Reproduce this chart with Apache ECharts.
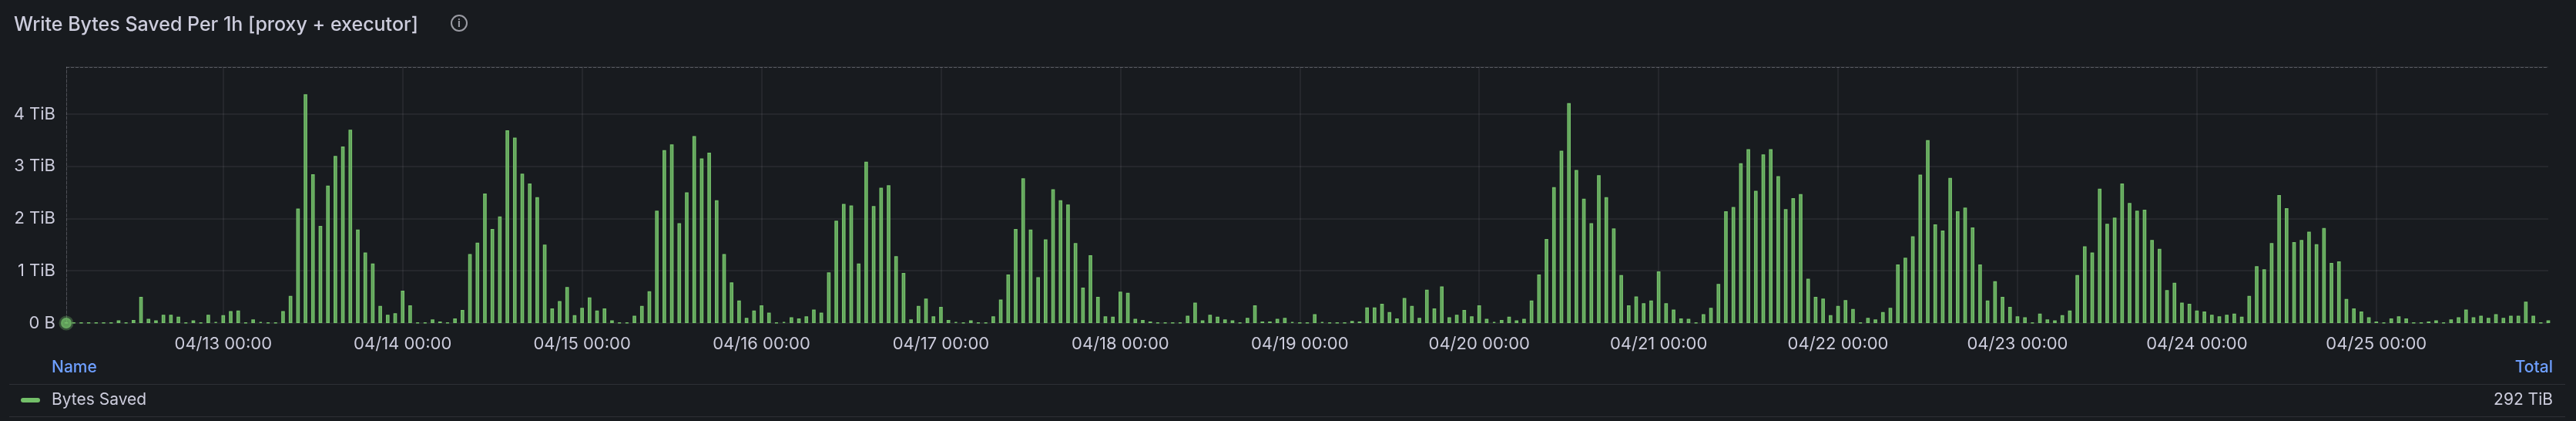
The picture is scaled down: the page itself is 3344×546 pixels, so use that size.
<!DOCTYPE html>
<html><head><meta charset="utf-8">
<script src="https://cdn.jsdelivr.net/npm/echarts@6/dist/echarts.min.js"></script>
<style>html,body{margin:0;padding:0;background:#181b1f;}#c{width:3344px;height:546px;}</style>
</head><body><div id="c"></div>
<script>
// first bar: 04/12 03:00, hourly
var startDay = 12, startHour = 3;
var values = [
0.005,0.005,0.005,0.005,0.005,0.005,0.005,0.05,0.01,0.06,0.50,0.08,0.05,0.16,0.16,0.12,0.01,0.05,0.01,0.16,0.02,0.15,0.23,0.24,0.01,0.07,0.02,0.01,0.01,0.23,
0.52,2.19,4.38,2.85,1.86,2.63,3.20,3.38,3.70,1.79,1.35,1.14,0.33,0.16,0.19,0.62,0.34,0.01,0.01,0.07,0.03,0.01,0.09,0.25,
1.32,1.54,2.48,1.80,2.04,3.69,3.55,2.86,2.67,2.41,1.50,0.28,0.42,0.69,0.15,0.29,
0.49,0.24,0.28,0.05,0.01,0.01,0.14,0.33,0.61,2.15,
3.31,3.42,1.91,2.50,3.58,3.15,3.26,2.35,1.32,0.78,
0.43,0.10,0.24,0.34,0.20,0.01,0.02,0.11,0.09,0.13,0.26,0.20,0.97,1.96,2.28,2.25,1.14,3.09,2.24,2.59,2.64,1.28,0.96,
0.07,0.33,0.47,0.13,0.31,0.06,0.02,0.01,0.05,0.01,0.01,0.13,0.45,0.93,1.80,2.77,1.79,0.88,1.60,2.56,2.35,2.27,1.53,0.68,1.30,0.50,0.13,0.12,0.60,0.58,0.08,0.06,0.03,0.01,0.01,0.005,0.01,0.14,0.39,0.05,0.16,0.12,0.07,0.05,0.01,0.10,0.34,0.03,0.03,0.08,0.10,0.02,0.005,0.005,0.17,0.02,0.01,0.005,0.005,0.04,
0.03,0.30,0.30,0.37,0.21,0.09,0.48,0.33,0.10,0.64,0.28,0.70,0.11,0.16,0.25,0.13,0.34,
0.08,0.02,0.06,0.12,0.05,0.08,0.43,0.93,1.61,2.60,3.30,4.21,2.93,2.38,1.91,2.83,2.41,1.81,0.92,0.34,0.51,0.38,0.43,0.99,
0.38,0.26,0.09,0.08,0.01,0.17,0.29,0.75,2.14,2.22,3.06,3.33,2.53,3.23,3.33,2.81,2.18,2.39,2.47,
0.85,0.50,0.47,0.15,0.33,
0.44,0.27,0.01,0.10,0.07,0.21,0.29,1.12,1.25,1.66,2.84,3.50,1.89,1.77,2.78,2.14,2.21,1.83,1.12,0.43,0.80,0.50,0.31,0.13,
0.11,0.01,0.18,0.07,0.05,0.15,0.24,0.92,1.47,1.35,2.57,1.90,2.02,2.67,2.30,2.15,2.17,1.59,1.42,0.63,0.77,0.39,0.37,0.24,
0.22,0.16,0.13,0.16,0.18,0.12,0.52,
1.09,1.03,1.53,2.45,2.20,1.55,1.59,1.75,1.51,1.82,1.15,1.18,0.46,0.28,0.22,0.11,0.03,
0.01,0.09,0.13,0.09,0.005,0.005,0.03,0.05,0.01,0.07,0.11,0.26,0.11,0.14,0.10,0.17,0.10,0.14,0.14,0.41,0.14,0.005,0.05
];
var yTicks = [0,1,2,3,4];
var yMax = 4.9;
var legendName = 'Bytes Saved';
var legendTotal = '292 TiB';
var titleText = 'Write Bytes Saved Per 1h [proxy + executor]';

function pad(n){return (n<10?'0':'')+n;}
var categories = [];
for (var i=0;i<values.length;i++){
  var h = startHour + i;
  var d = startDay + Math.floor(h/24);
  categories.push('04/' + pad(d) + ' ' + pad(h%24) + ':00');
}
var isMidnight = function(idx){ return /00:00$/.test(categories[idx]); };
var txt = '#ccccdc';
var font = 'Inter, "Noto Sans", sans-serif';
var chart = echarts.init(document.getElementById('c'));
chart.setOption({
  backgroundColor:'#181b1f',
  animation:false,
  textStyle:{fontFamily:font},
  title:{text:titleText,left:13,top:15,textStyle:{color:'#ccccdc',fontSize:25,fontWeight:500,fontFamily:font}},
  grid:{left:86,right:36,top:87,bottom:127,containLabel:false},
  xAxis:{type:'category',data:categories,boundaryGap:false,
    axisLine:{show:false},axisTick:{show:false},
    axisLabel:{interval:function(i){return isMidnight(i);},color:txt,fontSize:22,margin:16,fontFamily:font},
    splitLine:{show:true,interval:function(i){return isMidnight(i);},lineStyle:{color:'rgba(204,204,220,0.1)',width:1.5}}
  },
  yAxis:{type:'value',min:0,max:yMax,interval:1,
    axisLine:{show:true,lineStyle:{color:'rgba(204,204,220,0.3)',type:'dashed',width:1}},
    axisTick:{show:false},
    axisLabel:{color:txt,fontSize:22,margin:14,fontFamily:font,
      formatter:function(v){ if(yTicks.indexOf(v)<0) return ''; return v===0?'0 B':v+' TiB';}},
    splitLine:{lineStyle:{color:'rgba(204,204,220,0.1)',width:1.5}}
  },
  series:[{type:'bar',data:values,barWidth:'48%',
    itemStyle:{color:'rgba(115,191,105,0.8)',borderColor:'#73bf69',borderWidth:1.5},
    markLine:{silent:true,symbol:'none',label:{show:false},
      lineStyle:{color:'rgba(204,204,220,0.3)',type:'dashed',width:1},data:[{yAxis:yMax}]}
  },{type:'scatter',data:[[0,0]],symbolSize:14,
    itemStyle:{color:'#73bf69',borderColor:'rgba(115,191,105,0.4)',borderWidth:5},z:5}],
  graphic:[
    {type:'circle',shape:{cx:596,cy:30,r:10},style:{fill:'none',stroke:'#9a9ba3',lineWidth:2}},
    {type:'text',style:{x:596,y:31,text:'i',fill:'#9a9ba3',font:'bold 14px '+font,textAlign:'center',textVerticalAlign:'middle'}},
    {type:'text',style:{x:67,y:477,text:'Name',fill:'#6e9fff',font:'500 21px '+font,textVerticalAlign:'middle'}},
    {type:'text',style:{x:3314,y:477,text:'Total',fill:'#6e9fff',font:'500 21px '+font,textAlign:'right',textVerticalAlign:'middle'}},
    {type:'rect',shape:{x:12,y:498,width:3318,height:1},style:{fill:'rgba(204,204,220,0.12)'}},
    {type:'rect',shape:{x:27,y:516,width:25,height:6,r:3},style:{fill:'#73bf69'}},
    {type:'text',style:{x:67,y:519,text:legendName,fill:'#ccccdc',font:'21px '+font,textVerticalAlign:'middle'}},
    {type:'text',style:{x:3314,y:519,text:legendTotal,fill:'#ccccdc',font:'21px '+font,textAlign:'right',textVerticalAlign:'middle'}},
    {type:'rect',shape:{x:12,y:540,width:3318,height:1},style:{fill:'rgba(204,204,220,0.12)'}}
  ]
});
</script></body></html>
